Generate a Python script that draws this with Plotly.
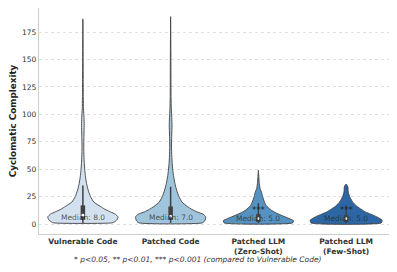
import plotly.graph_objects as go

categories = ["Vulnerable Code", "Patched Code", "Patched LLM<br>(Zero-Shot)", "Patched LLM<br>(Few-Shot)"]
medians = [8.0, 7.0, 5.0, 5.0]
q1 = [4, 4, 2, 2]
q3 = [17, 16, 9, 8]
whisker_lo = [1, 1, 1, 1]
whisker_hi = [35, 34, 19, 17]
significance = ["", "", "***", "***"]
median_label_y = [6, 6, 5, 5]

# density profiles (value, half-width)
vuln_y = [1, 2, 4, 6.5, 9, 11, 13.5, 16, 20, 25, 31, 37, 43, 49, 55, 62, 70, 80, 90, 97, 105, 115, 130, 150, 170, 187]
vuln_w = [0.33, 0.36, 0.39, 0.40, 0.37, 0.315, 0.25, 0.20, 0.125, 0.087, 0.06, 0.042, 0.03, 0.022, 0.016, 0.012, 0.01, 0.012, 0.015, 0.013, 0.007, 0.005, 0.004, 0.003, 0.002, 0.0]
patch_y = [1, 3, 6.5, 9, 11, 13.5, 16, 20, 25, 31, 37, 43, 49, 55, 62, 70, 80, 90, 97, 105, 115, 130, 150, 170, 189]
patch_w = [0.36, 0.39, 0.40, 0.37, 0.30, 0.24, 0.19, 0.13, 0.095, 0.068, 0.049, 0.035, 0.025, 0.018, 0.013, 0.01, 0.012, 0.016, 0.013, 0.008, 0.005, 0.004, 0.003, 0.002, 0.0]
zero_y = [1, 3, 5, 8, 10.5, 13, 17, 22, 26, 29, 31, 34, 37, 42, 49]
zero_w = [0.39, 0.40, 0.35, 0.26, 0.19, 0.14, 0.087, 0.06, 0.045, 0.036, 0.025, 0.016, 0.011, 0.006, 0.0]
few_y = [1, 3.5, 6.5, 9, 11, 13.5, 16, 19, 22, 25, 28, 31, 33, 35, 36.5]
few_w = [0.40, 0.41, 0.35, 0.28, 0.22, 0.17, 0.125, 0.085, 0.06, 0.04, 0.028, 0.022, 0.022, 0.015, 0.0]

profiles_y = [vuln_y, patch_y, zero_y, few_y]
profiles_w = [vuln_w, patch_w, zero_w, few_w]
colors = ["#d2e0ef", "#9fc4dc", "#5592c2", "#2c66a4"]
line_col = "#404040"

fig = go.Figure()
for i in range(len(categories)):
    ys = profiles_y[i]
    ws = profiles_w[i]
    xs = [i - w for w in ws] + [i + w for w in ws[::-1]]
    yy = list(ys) + list(ys[::-1])
    xs.append(xs[0]); yy.append(yy[0])
    fig.add_trace(go.Scatter(x=xs, y=yy, mode="lines", fill="toself",
                             fillcolor=colors[i], line=dict(color=line_col, width=0.9, shape="spline", smoothing=0.5),
                             hoverinfo="skip", showlegend=False))
    fig.add_trace(go.Scatter(x=[i, i], y=[whisker_lo[i], whisker_hi[i]], mode="lines",
                             line=dict(color=line_col, width=1.5), showlegend=False, hoverinfo="skip"))
    fig.add_trace(go.Scatter(x=[i, i], y=[q1[i], q3[i]], mode="lines",
                             line=dict(color=line_col, width=4.5), showlegend=False, hoverinfo="skip"))
    fig.add_trace(go.Scatter(x=[i], y=[medians[i]], mode="markers",
                             marker=dict(color="white", size=2.8), showlegend=False, hoverinfo="skip"))
    fig.add_annotation(x=i, y=median_label_y[i], text=f"Median: {medians[i]:.1f}", showarrow=False,
                       font=dict(family="DejaVu Sans", size=7.5, color="rgba(40,40,40,0.75)"),
                       xanchor="center", yanchor="middle")
    if significance[i]:
        fig.add_annotation(x=i, y=12.5, text=significance[i], showarrow=False,
                           font=dict(family="DejaVu Sans", size=8.5, color="#222"),
                           xanchor="center", yanchor="middle")

fig.add_annotation(xref="paper", yref="paper", x=0.453, y=-0.115,
                   text="<i>* p<0.05, ** p<0.01, *** p<0.001 (compared to Vulnerable Code)</i>",
                   showarrow=False, font=dict(family="DejaVu Sans", size=7.5, color="#333"),
                   xanchor="center", yanchor="middle")

fig.update_layout(
    width=389, height=264,
    margin=dict(l=31, r=7, t=0, b=38),
    paper_bgcolor="white", plot_bgcolor="white",
    font=dict(family="DejaVu Sans", color="#333"),
    xaxis=dict(range=[-0.5, 3.5], tickvals=list(range(len(categories))), ticktext=categories,
               showgrid=False, zeroline=False, showline=True, linecolor="#cccccc", linewidth=1.2,
               ticks="", automargin=False, tickfont=dict(size=7.5, weight="bold", color="#333")),
    yaxis=dict(range=[-9.1, 196.9], tickvals=[0, 25, 50, 75, 100, 125, 150, 175],
               showgrid=True, gridcolor="#e0e0e0", griddash="dot", gridwidth=1,
               zeroline=False, showline=True, linecolor="#cccccc", linewidth=1.2,
               ticks="", automargin=False, tickfont=dict(size=7.5, color="#333"),
               title=dict(text="Cyclomatic Complexity", font=dict(size=8.8, weight="bold", color="#222"), standoff=4)),
)

fig.write_html("out.html")
